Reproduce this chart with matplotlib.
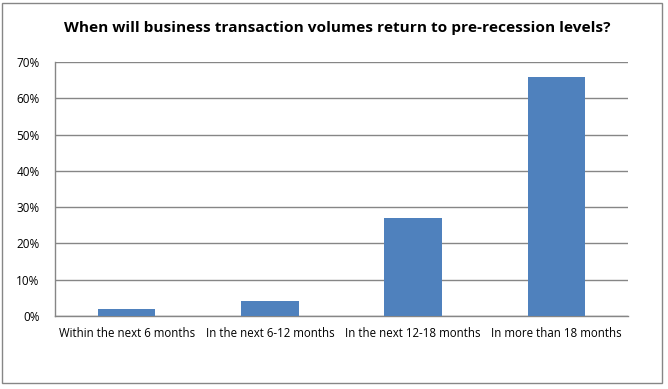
import matplotlib
matplotlib.use("Agg")
import matplotlib.pyplot as plt
from matplotlib.patches import Rectangle
from matplotlib.ticker import FuncFormatter

categories = ["Within the next 6 months", "In the next 6-12 months",
              "In the next 12-18 months", "In more than 18 months"]
values = [2.0, 4.2, 27.0, 66.0]
yticks = [0, 10, 20, 30, 40, 50, 60, 70]

plt.rcParams['font.family'] = ['Open Sans', 'DejaVu Sans']

W, H = 668, 389
fig = plt.figure(figsize=(W / 100, H / 100), dpi=100)
ax = fig.add_axes([55 / W, 1 - 316 / H, 573 / W, 254 / H])

x = range(len(categories))
ax.bar(x, values, width=0.4, color="#4F81BD", zorder=3)

ax.set_xlim(-0.5, 3.5)
ax.set_ylim(0, 70)
ax.set_yticks(yticks)
ax.yaxis.set_major_formatter(FuncFormatter(lambda v, p: f"{int(v)}%"))
ax.set_xticks(list(x))
ax.set_xticklabels(categories)
ax.grid(axis="y", color="#868686", linewidth=1, zorder=0)

for s in ["top", "right"]:
    ax.spines[s].set_visible(False)
for s in ["left", "bottom"]:
    ax.spines[s].set_color("#868686")
    ax.spines[s].set_linewidth(1)

ax.tick_params(axis="y", length=0, labelsize=8.5, pad=11)
ax.tick_params(axis="x", length=0, labelsize=8.3, pad=8)

fig.text(0.505, 1 - 28 / H, "When will business transaction volumes return to pre-recession levels?",
         ha="center", va="center", fontsize=11.1, fontweight="bold")

# outer border of the chart
fig.patches.append(Rectangle((2 / W, 1 - 383 / H), 660 / W, 380 / H, transform=fig.transFigure,
                             fill=False, edgecolor="#868686", linewidth=1))

fig.savefig("out.png", dpi=100)
